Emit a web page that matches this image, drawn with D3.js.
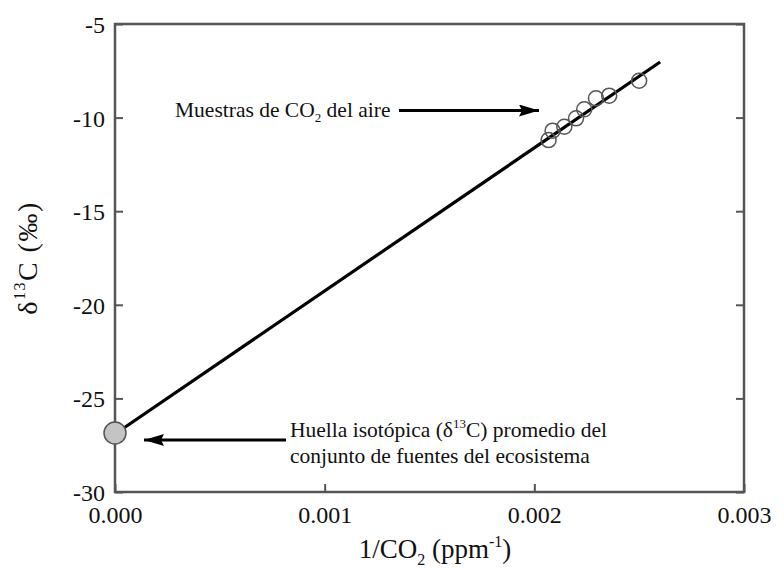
<!DOCTYPE html>
<html>
<head>
<meta charset="utf-8">
<script src="https://cdn.jsdelivr.net/npm/d3@7"></script>
<style>
  html, body { margin: 0; padding: 0; background: #fff; }
  svg { display: block; }
  svg text { font-family: "Liberation Serif", "DejaVu Serif", serif; }
</style>
</head>
<body>
<svg id="chart" width="784" height="568"></svg>
<script>
// Data
const sampleX = [0.002068, 0.002087, 0.002143, 0.002199, 0.002238, 0.002294, 0.002357, 0.002500];
const sampleY = [-11.20, -10.70, -10.49, -10.04, -9.56, -8.97, -8.83, -8.03];
const sourceX = [0];
const sourceY = [-26.85];
const fitX = [0, 0.0026];
const fitY = [-26.9, -7.03];
const xTicks = [0, 0.001, 0.002, 0.003];
const yTicks = [-30, -25, -20, -15, -10, -5];

(function () {
const svg = d3.select("#chart");
const mLeft = 115, mRight = 744, mTop = 24, mBottom = 492;
const x = d3.scaleLinear().domain([0, 0.003]).range([mLeft, mRight]);
const y = d3.scaleLinear().domain([-30, -5]).range([mBottom, mTop]);
const frameColor = "#555";
const serif = "Liberation Serif, DejaVu Serif, serif";

// Axes with inward ticks
const gx = svg.append("g").attr("transform", `translate(0,${mBottom})`)
  .call(d3.axisBottom(x).tickValues(xTicks).tickFormat(d3.format(".3f"))
        .tickSizeInner(-8).tickSizeOuter(0).tickPadding(14));
const gy = svg.append("g").attr("transform", `translate(${mLeft},0)`)
  .call(d3.axisLeft(y).tickValues(yTicks).tickFormat(d => String(d))
        .tickSizeInner(-8).tickSizeOuter(0).tickPadding(10));
const gr = svg.append("g").attr("transform", `translate(${mRight},0)`)
  .call(d3.axisRight(y).tickValues(yTicks).tickFormat("")
        .tickSizeInner(-8).tickSizeOuter(0));
[gx, gy, gr].forEach(g => {
  g.attr("font-family", serif).attr("font-size", 24);
  g.selectAll("path.domain").remove();
  g.selectAll(".tick line").attr("stroke", frameColor).attr("stroke-width", 2);
  g.selectAll(".tick text").attr("fill", "#111");
});
gx.selectAll(".tick text").attr("dy", "0.71em");
gy.selectAll(".tick text").attr("dy", "0.35em");

// Frame
svg.append("rect").attr("x", mLeft).attr("y", mTop)
  .attr("width", mRight - mLeft).attr("height", mBottom - mTop)
  .attr("fill", "none").attr("stroke", frameColor).attr("stroke-width", 2.5);

// Fit line
const fit = fitX.map((d, i) => [d, fitY[i]]);
svg.append("path").datum(fit)
  .attr("d", d3.line().x(d => x(d[0])).y(d => y(d[1])))
  .attr("stroke", "#000").attr("stroke-width", 3.2).attr("fill", "none");

// Sample points (open circles)
svg.append("g").selectAll("circle").data(sampleX.map((d, i) => [d, sampleY[i]]))
  .join("circle")
  .attr("cx", d => x(d[0])).attr("cy", d => y(d[1])).attr("r", 7.5)
  .attr("fill", "none").attr("stroke", "#555").attr("stroke-width", 1.5);

// Source point (gray filled)
svg.append("g").selectAll("circle").data(sourceX.map((d, i) => [d, sourceY[i]]))
  .join("circle")
  .attr("cx", d => x(d[0])).attr("cy", d => y(d[1])).attr("r", 11)
  .attr("fill", "#c4c4c4").attr("stroke", "#555").attr("stroke-width", 1.5);

// Arrow marker
const defs = svg.append("defs");
defs.append("marker").attr("id", "arrow").attr("viewBox", "0 0 20 12")
  .attr("refX", 20).attr("refY", 6).attr("markerWidth", 20).attr("markerHeight", 12)
  .attr("markerUnits", "userSpaceOnUse").attr("orient", "auto")
  .append("path").attr("d", "M0,0 L20,6 L0,12 L3,6 Z").attr("fill", "#000");

// Annotation 1
const t1 = svg.append("text").attr("x", 175).attr("y", 117)
  .attr("font-size", 21.5).attr("fill", "#111");
t1.append("tspan").text("Muestras de CO");
t1.append("tspan").text("2").attr("font-size", 13).attr("dy", 5);
t1.append("tspan").text(" del aire").attr("dy", -5);
svg.append("line").attr("x1", 399).attr("y1", 110.5).attr("x2", 539).attr("y2", 110.5)
  .attr("stroke", "#000").attr("stroke-width", 3).attr("marker-end", "url(#arrow)");

// Annotation 2
const t2 = svg.append("text").attr("x", 290).attr("y", 437)
  .attr("font-size", 21.5).attr("fill", "#111");
t2.append("tspan").text("Huella isotópica (δ");
t2.append("tspan").text("13").attr("font-size", 13).attr("dy", -9);
t2.append("tspan").text("C) promedio del").attr("dy", 9);
svg.append("text").attr("x", 290).attr("y", 463)
  .attr("font-size", 21.5).attr("fill", "#111")
  .text("conjunto de fuentes del ecosistema");
svg.append("line").attr("x1", 286).attr("y1", 440).attr("x2", 144).attr("y2", 440)
  .attr("stroke", "#000").attr("stroke-width", 3).attr("marker-end", "url(#arrow)");

// Axis titles
const xt = svg.append("text").attr("x", 435).attr("y", 558).attr("text-anchor", "middle")
  .attr("font-size", 27).attr("fill", "#111");
xt.append("tspan").text("1/CO");
xt.append("tspan").text("2").attr("font-size", 16).attr("dy", 7);
xt.append("tspan").text(" (ppm").attr("dy", -7);
xt.append("tspan").text("-1").attr("font-size", 16).attr("dy", -11);
xt.append("tspan").text(")").attr("dy", 11);

const yt = svg.append("text").attr("transform", "translate(37,258) rotate(-90)")
  .attr("text-anchor", "middle").attr("font-size", 28).attr("letter-spacing", 1.5)
  .attr("fill", "#111");
yt.append("tspan").text("δ");
yt.append("tspan").text("13").attr("font-size", 16).attr("dy", -12);
yt.append("tspan").text("C (‰)").attr("dy", 12);
})();
</script>
</body>
</html>
